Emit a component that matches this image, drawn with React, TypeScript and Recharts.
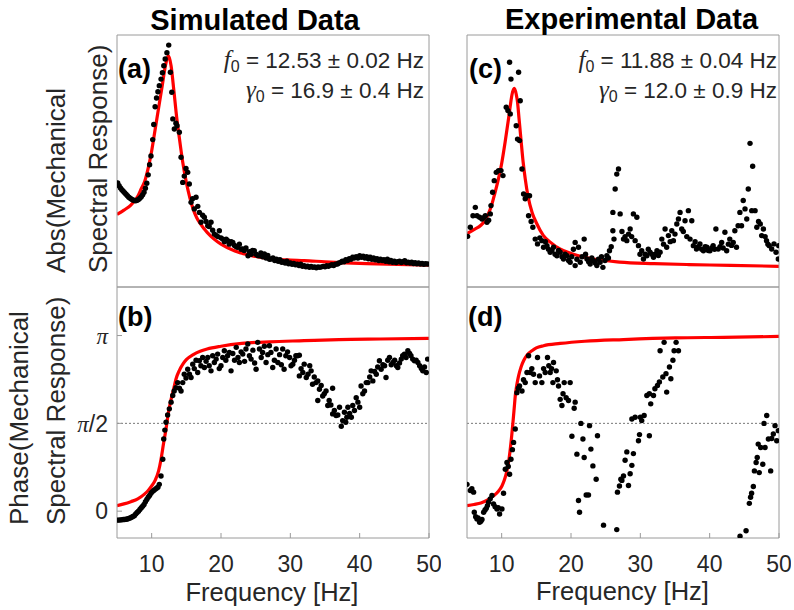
import React from 'react'
import { ComposedChart, Scatter, Line, XAxis, YAxis, ReferenceLine } from 'recharts'

const FONT = '"Liberation Sans", Arial, Helvetica, sans-serif'
const SERIF = '"Liberation Serif", "Times New Roman", serif'
const TXT = '#262626'
const BOX = '#9a9a9a'

type Pt = [number, number]

const freqTicks = [10, 20, 30, 40, 50]
const phaseTicks = [0, Math.PI / 2, Math.PI]

// (a) simulated, abs (arbitrary units 0..10)
const simAbsDots: Pt[] = [
    [5.1, 4.13], [5.3, 4.02], [5.5, 3.93], [5.7, 3.86], [5.9, 3.8], [6.1, 3.74], [6.3, 3.68], [6.5, 3.62],
    [6.7, 3.56], [6.9, 3.52], [7.1, 3.48], [7.3, 3.45], [7.5, 3.43], [7.7, 3.42], [7.9, 3.44], [8.1, 3.47],
    [8.3, 3.52], [8.5, 3.58], [8.7, 3.66], [8.9, 3.76], [9.1, 3.92], [9.3, 4.12], [9.5, 4.45], [9.7, 4.85],
    [9.9, 5.2], [10.15, 5.85], [10.3, 6.45], [10.5, 7.15], [10.7, 7.5], [10.9, 7.75], [11.1, 7.99], [11.35, 8.25],
    [11.55, 8.5], [11.75, 8.78], [11.95, 9.05], [12.2, 9.3], [12.46, 9.6], [12.7, 8.52], [12.9, 7.73], [13.05, 6.67],
    [13.27, 6.27], [13.5, 6.5], [13.66, 6.4], [13.99, 6.14], [14.24, 5.15], [14.48, 4.15], [14.7, 4.4], [14.95, 4.7],
    [15.2, 4.55], [15.43, 4.09], [15.68, 3.36], [15.9, 3.5], [16.15, 3.1], [16.4, 3.56], [16.65, 3.2], [16.88, 2.96],
    [17.12, 2.57], [17.35, 2.85], [17.6, 2.77], [17.85, 2.6], [18.09, 2.43], [18.3, 2.4], [18.56, 2.57], [18.8, 2.25],
    [19.04, 2.1], [19.3, 2.05], [19.55, 2.0], [19.76, 2.23], [20.0, 1.95], [20.25, 1.9], [20.5, 1.8], [20.75, 1.9],
    [20.97, 1.84], [21.2, 1.7], [21.45, 1.8], [21.7, 1.77], [21.95, 1.65], [22.2, 1.6], [22.4, 1.58], [22.65, 1.7],
    [22.9, 1.5], [23.1, 1.51], [23.35, 1.45], [23.6, 1.55], [23.9, 1.24], [24.1, 1.4], [24.35, 1.3], [24.55, 1.45],
    [24.8, 1.44], [25.05, 1.3], [25.3, 1.25], [25.5, 1.24], [25.75, 1.35], [26.0, 1.2], [26.26, 1.31], [26.5, 1.15],
    [26.75, 1.25], [27.0, 1.1], [27.2, 1.11], [27.5, 1.15], [27.75, 1.05], [28.0, 1.1], [28.25, 1.02], [28.5, 1.08],
    [28.75, 0.98], [29.0, 1.0], [29.25, 0.95], [29.5, 1.02], [29.75, 0.92], [30.0, 0.95], [30.25, 0.9], [30.5, 0.93],
    [30.75, 0.88], [31.0, 0.9], [31.25, 0.85], [31.5, 0.9], [31.75, 0.82], [32.0, 0.85], [32.25, 0.8], [32.5, 0.83],
    [32.75, 0.78], [33.0, 0.82], [33.25, 0.78], [33.5, 0.8], [33.75, 0.76], [34.0, 0.8], [34.25, 0.78], [34.5, 0.8],
    [34.75, 0.82], [35.0, 0.8], [35.25, 0.85], [35.5, 0.82], [35.75, 0.86], [36.0, 0.88], [36.25, 0.85], [36.5, 0.9],
    [36.8, 0.91], [37.0, 0.95], [37.3, 0.98], [37.5, 1.02], [37.75, 1.0], [38.0, 1.08], [38.25, 1.05], [38.5, 1.12],
    [38.75, 1.1], [39.0, 1.18], [39.2, 1.15], [39.5, 1.2], [39.75, 1.15], [40.0, 1.24], [40.25, 1.18], [40.5, 1.22],
    [40.75, 1.15], [41.0, 1.2], [41.25, 1.12], [41.5, 1.18], [41.75, 1.1], [42.0, 1.15], [42.25, 1.08], [42.5, 1.12],
    [42.75, 1.05], [43.0, 1.1], [43.25, 1.05], [43.5, 1.08], [43.75, 1.02], [44.0, 1.1], [44.25, 1.0], [44.5, 1.05],
    [44.75, 0.98], [45.0, 1.02], [45.25, 0.97], [45.5, 1.0], [45.75, 1.02], [46.0, 0.97], [46.25, 1.0], [46.5, 1.04],
    [46.75, 0.96], [47.0, 0.98], [47.25, 0.95], [47.5, 0.98], [47.75, 0.93], [48.0, 0.96], [48.25, 0.92], [48.5, 0.95],
    [48.75, 0.91], [49.0, 0.93], [49.25, 0.9], [49.5, 0.92], [49.8, 0.91],
]
const simAbsFit: Pt[] = [
    [5.0, 2.88], [6.0, 3.05], [7.0, 3.25], [8.0, 3.6], [8.5, 3.9], [9.0, 4.2], [9.5, 4.72], [10.0, 5.4],
    [10.5, 6.25], [11.0, 7.1], [11.5, 7.95], [12.0, 8.8], [12.4, 9.18], [12.8, 8.78], [13.2, 7.8], [13.6, 6.75],
    [14.0, 5.9], [14.5, 4.92], [15.0, 4.15], [15.5, 3.55], [16.0, 3.08], [16.5, 2.75], [17.0, 2.52], [17.5, 2.33],
    [18.0, 2.17], [19.0, 1.9], [20.0, 1.7], [22.0, 1.43], [24.0, 1.27], [26.0, 1.16], [28.0, 1.1], [30.0, 1.07],
    [32.0, 1.05], [35.0, 1.0], [38.0, 0.96], [41.0, 0.93], [44.0, 0.91], [47.0, 0.89], [50.0, 0.87],
]

// (b) simulated, phase (rad)
const simPhaseDots: Pt[] = [
    [5.1, -0.16], [5.3, -0.16], [5.5, -0.155], [5.7, -0.155], [5.9, -0.15], [6.1, -0.15], [6.3, -0.145], [6.5, -0.14],
    [6.7, -0.13], [6.9, -0.12], [7.1, -0.11], [7.3, -0.095], [7.5, -0.08], [7.7, -0.05], [7.9, -0.025], [8.1, 0.0],
    [8.3, 0.03], [8.5, 0.06], [8.7, 0.09], [8.9, 0.12], [9.1, 0.17], [9.3, 0.21], [9.5, 0.25], [9.7, 0.28],
    [9.9, 0.32], [10.1, 0.35], [10.3, 0.37], [10.5, 0.39], [10.7, 0.41], [10.9, 0.43], [11.1, 0.48], [11.35, 0.63],
    [11.6, 0.93], [11.74, 1.29], [11.9, 1.45], [12.07, 1.59], [12.3, 1.72], [12.55, 1.83], [12.8, 1.95], [13.04, 2.07],
    [13.25, 2.15], [13.5, 2.21], [13.75, 2.3], [14.0, 2.2], [14.24, 2.15], [14.48, 2.3], [14.7, 2.45], [14.95, 2.38],
    [15.2, 2.54], [15.45, 2.45], [15.68, 2.39], [15.92, 2.63], [16.15, 2.55], [16.4, 2.7], [16.64, 2.48], [16.88, 2.69],
    [17.1, 2.6], [17.35, 2.75], [17.6, 2.57], [17.85, 2.68], [18.09, 2.75], [18.3, 2.6], [18.56, 2.51], [18.8, 2.78],
    [19.04, 2.66], [19.3, 2.72], [19.52, 2.81], [19.75, 2.55], [20.0, 2.6], [20.25, 2.75], [20.48, 2.87], [20.7, 2.7],
    [20.95, 2.78], [21.2, 2.84], [21.45, 2.51], [21.7, 2.82], [21.95, 2.7], [22.2, 2.93], [22.45, 2.75], [22.65, 2.66],
    [22.9, 2.85], [23.14, 2.81], [23.4, 2.68], [23.6, 2.9], [23.86, 2.99], [24.1, 2.78], [24.34, 2.72], [24.6, 2.88],
    [24.85, 2.65], [25.06, 2.54], [25.3, 3.02], [25.55, 2.9], [25.8, 2.75], [26.0, 2.84], [26.25, 2.95], [26.5, 2.66],
    [26.75, 2.8], [26.98, 2.96], [27.2, 2.84], [27.46, 2.57], [27.7, 2.7], [27.95, 2.9], [28.2, 2.66], [28.45, 2.8],
    [28.7, 2.62], [28.9, 2.9], [29.1, 2.54], [29.35, 2.78], [29.6, 2.85], [29.9, 2.75], [30.1, 2.6], [30.35, 2.63],
    [30.6, 2.7], [30.8, 2.78], [31.05, 2.78], [31.3, 2.79], [31.3, 2.42], [31.55, 2.55], [31.8, 2.48], [32.0, 2.63],
    [32.3, 2.39], [32.55, 2.45], [32.8, 2.6], [33.0, 2.51], [33.2, 2.27], [33.45, 2.4], [33.7, 2.3], [33.96, 2.33],
    [33.96, 1.98], [34.2, 2.18], [34.45, 2.25], [34.67, 2.06], [34.9, 2.1], [35.15, 2.15], [35.4, 1.89], [35.6, 1.98],
    [35.85, 1.9], [36.1, 2.2], [36.1, 1.74], [36.35, 1.8], [36.6, 1.71], [36.85, 1.72], [37.1, 1.86], [37.35, 1.52],
    [37.55, 1.62], [37.8, 1.77], [38.0, 1.59], [38.15, 1.68], [38.3, 1.86], [38.55, 1.75], [38.8, 1.68], [39.0, 1.89],
    [39.25, 1.8], [39.5, 2.03], [39.75, 1.95], [40.0, 1.86], [40.2, 2.24], [40.45, 2.1], [40.7, 2.15], [40.95, 2.3],
    [41.2, 2.3], [41.45, 2.4], [41.65, 2.51], [41.9, 2.33], [42.15, 2.5], [42.4, 2.45], [42.6, 2.58], [42.85, 2.69],
    [43.1, 2.54], [43.35, 2.62], [43.6, 2.6], [43.8, 2.39], [44.05, 2.7], [44.3, 2.75], [44.55, 2.62], [44.8, 2.66],
    [45.05, 2.7], [45.3, 2.6], [45.5, 2.57], [45.75, 2.65], [46.0, 2.72], [46.2, 2.78], [46.45, 2.81], [46.7, 2.75],
    [46.95, 2.87], [47.2, 2.82], [47.4, 2.78], [47.65, 2.72], [47.9, 2.69], [48.15, 2.7], [48.4, 2.66], [48.65, 2.6],
    [48.9, 2.55], [49.1, 2.51], [49.35, 2.58], [49.6, 2.48], [49.8, 2.72],
]
const simPhaseFit: Pt[] = [
    [5.0, 0.1], [6.0, 0.13], [7.0, 0.17], [8.0, 0.22], [9.0, 0.31], [9.5, 0.37], [10.0, 0.45], [10.5, 0.55],
    [11.0, 0.72], [11.35, 0.93], [11.7, 1.2], [12.07, 1.47], [12.4, 1.75], [12.8, 2.0], [13.2, 2.2], [13.5, 2.36],
    [14.0, 2.52], [14.5, 2.63], [15.0, 2.71], [16.0, 2.8], [17.0, 2.86], [18.0, 2.9], [20.0, 2.95], [23.0, 3.0],
    [27.0, 3.03], [32.0, 3.05], [37.0, 3.07], [43.0, 3.08], [50.0, 3.09],
]

// (c) experimental, abs
const expAbsDots: Pt[] = [
    [5.09, 2.01], [5.48, 2.37], [5.86, 2.83], [6.2, 3.16], [6.44, 2.83], [6.82, 2.77], [7.16, 2.7], [7.4, 2.75],
    [7.64, 2.83], [7.88, 2.57], [8.12, 2.65], [8.36, 2.9], [8.46, 3.23], [8.69, 3.76], [8.93, 4.22], [9.22, 4.55],
    [9.55, 4.62], [9.9, 4.62], [10.19, 4.42], [10.66, 7.13], [10.9, 7.0], [11.14, 8.92], [11.24, 6.87], [11.34, 8.25],
    [12.1, 6.4], [12.29, 5.87], [12.44, 8.52], [12.58, 5.81], [12.68, 7.39], [12.93, 4.68], [13.16, 3.69], [13.4, 3.5],
    [13.65, 3.62], [13.88, 2.83], [14.02, 3.62], [14.25, 2.6], [14.5, 2.37], [14.84, 1.9], [15.17, 1.71], [15.5, 1.95],
    [15.8, 1.84], [16.04, 1.58], [16.3, 1.8], [16.53, 1.64], [16.75, 1.5], [17.0, 1.38], [17.25, 1.45], [17.48, 1.58],
    [17.7, 1.3], [17.97, 1.24], [18.2, 1.45], [18.44, 1.38], [18.7, 1.2], [18.92, 1.11], [19.15, 1.3], [19.41, 1.24],
    [19.65, 1.05], [19.88, 0.98], [20.1, 1.2], [20.35, 1.5], [20.6, 1.77], [20.6, 0.85], [20.85, 1.1], [21.08, 1.58],
    [21.33, 0.98], [21.6, 1.2], [21.9, 1.9], [22.1, 1.3], [22.3, 1.11], [22.55, 1.0], [22.77, 0.91], [23.0, 1.15],
    [23.24, 1.04], [23.5, 0.95], [23.73, 0.85], [23.95, 1.1], [24.2, 0.98], [24.4, 1.2], [24.6, 0.78], [24.9, 1.05],
    [25.17, 1.24], [25.4, 1.15], [25.55, 1.44], [25.8, 1.6], [26.04, 2.96], [26.04, 2.23], [26.2, 1.9], [26.37, 3.89],
    [26.6, 4.48], [26.85, 4.68], [27.09, 2.9], [27.35, 2.2], [27.57, 1.9], [27.8, 2.0], [28.05, 1.84], [28.3, 2.1],
    [28.53, 2.3], [28.75, 2.0], [29.0, 2.9], [29.25, 1.84], [29.5, 2.77], [29.73, 1.64], [29.95, 1.3], [30.2, 1.44],
    [30.45, 1.11], [30.7, 1.3], [30.94, 1.24], [31.15, 1.5], [31.4, 1.38], [31.65, 1.3], [31.9, 1.18], [32.15, 1.3],
    [32.4, 1.44], [32.6, 1.25], [32.85, 1.38], [33.1, 1.9], [33.35, 1.7], [33.57, 2.3], [33.8, 1.58], [34.05, 2.04],
    [34.3, 1.8], [34.54, 2.23], [34.77, 1.84], [35.0, 2.1], [35.26, 2.5], [35.5, 2.7], [35.73, 2.96], [35.97, 2.3],
    [36.2, 2.2], [36.45, 2.63], [36.7, 2.0], [36.93, 3.03], [37.17, 1.9], [37.42, 2.63], [37.65, 1.64], [37.9, 1.8],
    [38.1, 1.51], [38.35, 1.6], [38.6, 1.71], [38.85, 1.5], [39.1, 1.44], [39.35, 1.6], [39.6, 1.58], [39.8, 1.45],
    [40.04, 1.44], [40.3, 1.55], [40.5, 1.64], [40.7, 1.5], [40.9, 2.3], [41.23, 1.51], [41.5, 1.6], [41.73, 1.77],
    [41.95, 1.55], [42.2, 2.17], [42.45, 1.44], [42.7, 1.7], [42.9, 1.9], [43.15, 1.65], [43.4, 1.77], [43.63, 2.23],
    [43.87, 1.58], [44.1, 2.43], [44.36, 2.96], [44.6, 2.43], [44.84, 3.43], [45.1, 3.1], [45.35, 2.7], [45.57, 3.89],
    [45.82, 5.7], [46.07, 3.03], [46.2, 4.79], [46.55, 3.03], [46.8, 2.37], [47.05, 2.6], [47.3, 2.5], [47.5, 2.04],
    [47.75, 2.3], [48.0, 2.0], [48.2, 1.84], [48.4, 1.7], [48.6, 1.64], [48.95, 1.51], [49.28, 1.71], [49.57, 1.38],
    [49.9, 1.11], [49.96, 1.64],
]
const expAbsFit: Pt[] = [
    [5.0, 2.12], [6.0, 2.28], [7.0, 2.45], [7.5, 2.6], [8.0, 2.85], [8.5, 3.2], [9.0, 3.7], [9.5, 4.25],
    [10.0, 4.9], [10.5, 5.75], [11.0, 6.7], [11.24, 7.19], [11.5, 7.65], [11.82, 7.88], [12.1, 7.65], [12.29, 7.33],
    [12.5, 6.7], [12.78, 5.87], [13.1, 4.95], [13.4, 4.29], [13.8, 3.6], [14.4, 2.95], [15.0, 2.55], [16.0, 2.05],
    [17.0, 1.78], [18.4, 1.51], [20.0, 1.33], [23.0, 1.12], [27.0, 0.99], [32.0, 0.93], [37.0, 0.89], [43.0, 0.86],
    [50.0, 0.82],
]

// (d) experimental, phase
const expPhaseDots: Pt[] = [
    [5.0, 0.48], [5.48, 0.37], [5.7, 0.4], [5.95, 0.34], [6.05, -0.02], [6.25, -0.1], [6.44, -0.14], [6.6, -0.12],
    [6.82, -0.2], [7.0, -0.18], [7.16, -0.15], [7.4, -0.02], [7.6, 0.02], [7.78, 0.05], [7.95, 0.1], [8.11, 0.16],
    [8.35, 0.22], [8.6, 0.28], [8.83, 0.13], [9.05, 0.08], [9.32, 0.04], [9.5, 0.06], [9.7, -0.05], [10.04, 0.04],
    [10.27, 0.32], [10.52, 0.75], [10.76, 0.87], [10.95, 0.8], [11.14, 0.66], [11.34, 0.93], [11.55, 1.1], [11.72, 1.23],
    [11.96, 1.47], [12.2, 2.12], [12.4, 2.2], [12.58, 2.24], [12.93, 2.15], [13.15, 2.35], [13.4, 2.3], [13.65, 2.48],
    [13.88, 2.78], [14.12, 2.48], [14.35, 2.55], [14.6, 2.45], [14.84, 2.3], [15.17, 2.75], [15.46, 2.42], [15.8, 2.3],
    [16.05, 2.55], [16.28, 2.48], [16.61, 2.75], [16.8, 2.6], [17.0, 2.48], [17.2, 2.55], [17.39, 2.3], [17.48, 2.66],
    [17.87, 2.51], [18.05, 2.35], [18.2, 2.24], [18.44, 2.0], [18.69, 1.89], [18.85, 2.1], [19.02, 2.3], [19.3, 2.03],
    [19.64, 1.98], [19.88, 2.3], [20.13, 1.34], [20.46, 1.84], [20.6, 1.95], [20.85, 1.02], [21.08, 0.19], [21.23, -0.02],
    [21.43, 1.57], [21.72, 1.29], [21.9, 0.96], [22.19, 0.29], [22.52, 0.29], [22.67, 1.53], [22.87, 1.11], [23.16, 0.81],
    [23.63, 0.57], [23.82, 1.35], [24.69, -0.25], [26.6, -0.33], [26.7, 0.34], [26.99, 0.45], [27.19, 0.57], [27.34, 0.55],
    [27.57, 0.63], [27.8, 0.91], [28.05, 1.06], [28.29, 0.46], [28.53, 0.67], [28.78, 0.82], [28.78, 1.65], [29.0, 1.03],
    [29.25, 1.68], [29.73, 1.26], [29.88, 1.37], [30.0, 1.68], [30.2, 1.62], [30.55, 1.71], [30.94, 2.07], [31.3, 1.35],
    [31.3, 2.1], [31.5, 1.92], [31.9, 2.07], [32.1, 2.19], [32.47, 2.25], [32.75, 2.31], [32.85, 2.87], [33.24, 2.4],
    [33.43, 3.02], [33.7, 2.46], [33.8, 2.13], [34.2, 2.58], [34.4, 2.37], [34.7, 2.7], [34.87, 2.87], [35.16, 3.02],
    [35.5, 2.87], [44.38, -0.45], [45.25, -0.35], [45.72, 0.14], [45.9, 0.25], [46.05, 0.32], [46.3, 0.44], [46.45, 0.72],
    [46.7, 0.87], [46.86, 0.96], [47.0, 1.2], [47.15, 0.69], [47.36, 1.14], [47.66, 0.84], [47.84, 1.57], [47.99, 1.14],
    [48.23, 1.71], [48.47, 1.29], [48.8, 0.72], [48.95, 1.3], [49.18, 1.38], [49.43, 1.53], [49.67, 1.26], [49.9, 1.44],
]
const expPhaseFit: Pt[] = [
    [5.0, 0.1], [6.0, 0.12], [7.0, 0.145], [8.0, 0.2], [8.83, 0.275], [9.5, 0.35], [10.04, 0.45], [10.4, 0.56],
    [10.76, 0.72], [11.0, 0.88], [11.24, 1.11], [11.45, 1.35], [11.63, 1.59], [11.8, 1.83], [11.96, 2.06], [12.2, 2.27],
    [12.44, 2.42], [12.8, 2.58], [13.16, 2.69], [13.7, 2.8], [14.37, 2.87], [15.0, 2.92], [16.04, 2.96], [18.44, 3.0],
    [22.0, 3.04], [27.57, 3.07], [35.0, 3.1], [42.0, 3.11], [50.0, 3.125],
]

const rows = (pts: Pt[]) => pts.map(([f, v]) => ({ f, v }))

const Dot = (p: any) => <circle cx={p.cx} cy={p.cy} r={2.7} fill="#000" />

const PhaseTick = (p: any) => {
    const v = p.payload.value
    return (
        <text x={p.x} y={p.y} dy="0.36em" textAnchor="end" fill={TXT} fontSize={23} fontFamily={FONT}>
            {v === 0 ? '0' : (
                <>
                    <tspan fontFamily={SERIF} fontStyle="italic">π</tspan>
                    {v < 3 ? <tspan>/2</tspan> : null}
                </>
            )}
        </text>
    )
}

// axes take 1px each (an axis of size 0 is not drawn), so margins are 1px smaller
const M = { top: 11, right: 11, bottom: 44, left: 49 }

function Panel({ x, y, w, h, dots, fit, phase, xLabels, yLabels }: {
    x: number
    y: number
    w: number
    h: number
    dots: Pt[]
    fit: Pt[]
    phase: boolean
    xLabels: boolean
    yLabels: boolean
}) {
    const yDomain = phase ? [-0.48, 4.01] : [0, 10]
    const yTicks = phase ? phaseTicks : [0]
    return (
        <div style={{ position: 'absolute', left: x - M.left - 1, top: y - M.top - 1 }}>
            <ComposedChart width={w + M.left + M.right + 2} height={h + M.top + M.bottom + 2} margin={M}>
                <XAxis
                    dataKey="f"
                    type="number"
                    domain={[5, 50]}
                    ticks={freqTicks}
                    allowDataOverflow
                    height={1}
                    tickSize={-5}
                    tickMargin={23}
                    stroke={BOX}
                    tick={xLabels ? { fill: TXT, fontSize: 23, fontFamily: FONT } : false}
                />
                <XAxis
                    xAxisId="top"
                    orientation="top"
                    dataKey="f"
                    type="number"
                    domain={[5, 50]}
                    ticks={freqTicks}
                    allowDataOverflow
                    height={1}
                    tickSize={-5}
                    stroke={BOX}
                    tick={false}
                />
                <YAxis
                    dataKey="v"
                    type="number"
                    domain={yDomain}
                    ticks={yTicks}
                    allowDataOverflow
                    width={1}
                    tickSize={-5}
                    tickMargin={14}
                    stroke={BOX}
                    tickLine={phase}
                    tick={yLabels ? <PhaseTick /> : false}
                />
                <YAxis
                    yAxisId="right"
                    orientation="right"
                    type="number"
                    domain={yDomain}
                    ticks={yTicks}
                    allowDataOverflow
                    width={1}
                    tickSize={-5}
                    stroke={BOX}
                    tickLine={phase}
                    tick={false}
                />
                {phase && (
                    <ReferenceLine y={Math.PI / 2} stroke="#555" strokeDasharray="2 2" strokeWidth={0.8} />
                )}
                <Scatter data={rows(dots)} dataKey="v" shape={Dot} isAnimationActive={false} />
                <Line
                    data={rows(fit)}
                    dataKey="v"
                    type="monotone"
                    stroke="#ff0000"
                    strokeWidth={3.2}
                    dot={false}
                    activeDot={false}
                    isAnimationActive={false}
                />
            </ComposedChart>
        </div>
    )
}

function Annotation({ x, y, f0, g0 }: { x: number; y: number; f0: string; g0: string }) {
    return (
        <g fill={TXT} fontFamily={FONT} fontSize={22.5}>
            <text x={x} y={y} textAnchor="end">
                <tspan fontFamily={SERIF} fontStyle="italic" fontSize={25}>f</tspan>
                <tspan fontSize={16} dy={4}>0</tspan>
                <tspan dy={-4}>{' = ' + f0 + ' Hz'}</tspan>
            </text>
            <text x={x} y={y + 30} textAnchor="end">
                <tspan fontFamily={SERIF} fontStyle="italic" fontSize={25}>γ</tspan>
                <tspan fontSize={16} dy={4}>0</tspan>
                <tspan dy={-4}>{' = ' + g0 + ' Hz'}</tspan>
            </text>
        </g>
    )
}

export default function App() {
    return (
        <div style={{ position: 'absolute', left: 0, top: 0, width: 794, height: 610, background: '#fff', overflow: 'hidden' }}>
            <Panel x={116.5} y={34.5} w={312} h={252} dots={simAbsDots} fit={simAbsFit} phase={false} xLabels={false} yLabels={false} />
            <Panel x={116.5} y={286.5} w={312} h={251} dots={simPhaseDots} fit={simPhaseFit} phase={true} xLabels={true} yLabels={true} />
            <Panel x={466.5} y={34.5} w={312} h={252} dots={expAbsDots} fit={expAbsFit} phase={false} xLabels={false} yLabels={false} />
            <Panel x={466.5} y={286.5} w={312} h={251} dots={expPhaseDots} fit={expPhaseFit} phase={true} xLabels={true} yLabels={false} />
            <svg width={794} height={610} style={{ position: 'absolute', left: 0, top: 0, pointerEvents: 'none' }}>
                <g fill={TXT} fontFamily={FONT}>
                    <text x={255} y={29.5} textAnchor="middle" fontSize={29} fontWeight="bold" fill="#000">Simulated Data</text>
                    <text x={631.5} y={29} textAnchor="middle" fontSize={29} fontWeight="bold" fill="#000">Experimental Data</text>

                    <text x={118} y={78} fontSize={27} fontWeight="bold" fill="#000">(a)</text>
                    <text x={118} y={326} fontSize={27} fontWeight="bold" fill="#000">(b)</text>
                    <text x={469} y={78} fontSize={27} fontWeight="bold" fill="#000">(c)</text>
                    <text x={468} y={326} fontSize={27} fontWeight="bold" fill="#000">(d)</text>

                    <text x={272} y={601} textAnchor="middle" fontSize={25.5}>Frequency [Hz]</text>
                    <text x={622.5} y={600} textAnchor="middle" fontSize={25.5}>Frequency [Hz]</text>

                    <text transform="translate(65,273) rotate(-90)" fontSize={26}>Abs(Mechanical</text>
                    <text transform="translate(106.5,273) rotate(-90)" fontSize={26}>Spectral Response)</text>
                    <text transform="translate(28,525) rotate(-90)" fontSize={26}>Phase(Mechanical</text>
                    <text transform="translate(64.7,525) rotate(-90)" fontSize={26}>Spectral Response)</text>
                </g>
                <Annotation x={424} y={68} f0="12.53 ± 0.02" g0="16.9 ± 0.4" />
                <Annotation x={777} y={68} f0="11.88 ± 0.04" g0="12.0 ± 0.9" />
            </svg>
        </div>
    )
}
